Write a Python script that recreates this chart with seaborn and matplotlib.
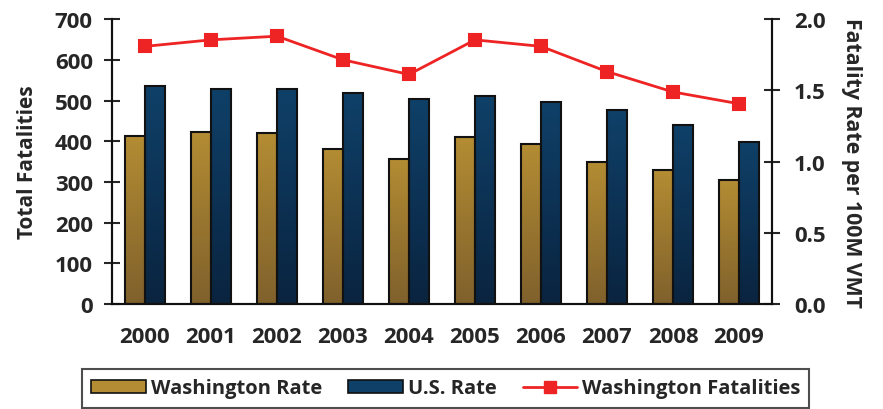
import numpy as np
import pandas as pd
import seaborn as sns
import matplotlib.pyplot as plt
from matplotlib.patches import Patch
from matplotlib.lines import Line2D
from matplotlib.colors import LinearSegmentedColormap

years = ["2000", "2001", "2002", "2003", "2004", "2005", "2006", "2007", "2008", "2009"]
wa_rate = [1.18, 1.21, 1.20, 1.09, 1.02, 1.17, 1.12, 1.00, 0.94, 0.87]
us_rate = [1.53, 1.51, 1.51, 1.48, 1.44, 1.46, 1.42, 1.36, 1.26, 1.14]
wa_fatalities = [633, 649, 658, 600, 564, 649, 633, 571, 521, 492]

sns.set_style("white")
plt.rcParams["font.family"] = ["Open Sans", "DejaVu Sans"]
plt.rcParams["font.weight"] = "bold"
plt.rcParams["axes.labelweight"] = "bold"

df = pd.DataFrame({
    "year": years * 2,
    "rate": wa_rate + us_rate,
    "series": ["Washington Rate"] * len(years) + ["U.S. Rate"] * len(years),
})

gold = ("#b38c33", "#80612c")
blue = ("#0f4068", "#0a2440")

fig = plt.figure(figsize=(8.83, 4.10), dpi=100)
ax = fig.add_axes([0.1268, 0.256, 0.7475, 0.695])
ax2 = ax.twinx()

# bars on the right (rate) axis
sns.barplot(data=df, x="year", y="rate", hue="series", ax=ax2,
            palette=[gold[0], blue[0]], width=0.6, edgecolor="#111111",
            linewidth=1.5, legend=False)

# gradient fill clipped to each bar
for p in ax2.patches:
    x0, y0 = p.get_x(), p.get_y()
    w, h = p.get_width(), p.get_height()
    if h <= 0:
        continue
    fc = p.get_facecolor()
    pair = gold if abs(fc[0] - 0.70) < 0.1 else blue
    cmap = LinearSegmentedColormap.from_list("g", [pair[1], pair[0]])
    grad = np.linspace(0, 1, 64).reshape(-1, 1)
    im = ax2.imshow(grad, cmap=cmap, aspect="auto", origin="lower",
                    extent=[x0, x0 + w, y0, y0 + h], zorder=p.get_zorder() - 0.1)
    im.set_clip_path(p)
    p.set_facecolor("none")

# line on the left (fatalities) axis, drawn above the bars
sns.pointplot(x=years, y=wa_fatalities, ax=ax, color="#ee2424", markers="s",
              markersize=9, linewidth=2)
ax.set_zorder(ax2.get_zorder() + 1)
ax.patch.set_visible(False)

ax.set_xlim(-0.5, 9.5)
ax.set_ylim(0, 700)
ax.set_yticks(range(0, 701, 100))
ax2.set_ylim(0, 2.0)
ax2.set_yticks([0, 0.5, 1.0, 1.5, 2.0])
ax2.set_yticklabels(["0.0", "0.5", "1.0", "1.5", "2.0"])

ax.set_xticks(range(len(years)))
ax.set_xticklabels(years)
ax.set_xticks(np.arange(0.5, 9.5, 1), minor=True)
ax.tick_params(axis="x", which="major", length=0, pad=16, labelsize=16)
ax.tick_params(axis="x", which="minor", length=10, width=1.5, direction="inout")
ax.tick_params(axis="y", length=11.5, width=1.5, direction="inout", labelsize=16, pad=8)
ax2.tick_params(axis="y", length=11.5, width=1.5, direction="inout", labelsize=16, pad=10)

ax.set_xlabel("")
ax.set_ylabel("Total Fatalities", fontsize=15, fontweight="bold", labelpad=12)
ax2.set_ylabel("Fatality Rate per 100M VMT", fontsize=15.3, fontweight="bold",
               rotation=270, labelpad=26)

for a in (ax, ax2):
    a.spines["top"].set_visible(False)
    for s in ("left", "right", "bottom"):
        a.spines[s].set_color("#111111")
        a.spines[s].set_linewidth(1.5)

handles = [
    Patch(facecolor=gold[0], edgecolor="#111111", linewidth=1.2, label="Washington Rate"),
    Patch(facecolor=blue[0], edgecolor="#111111", linewidth=1.2, label="U.S. Rate"),
    Line2D([0], [0], color="#ee2424", marker="s", markersize=8, linewidth=2,
           label="Washington Fatalities"),
]
leg = fig.legend(handles=handles, loc="center", bbox_to_anchor=(0.505, 0.05),
                 ncol=3, frameon=True, fancybox=False, fontsize=14.5,
                 handlelength=2.7, handleheight=0.6, handletextpad=0.25,
                 columnspacing=1.3, borderpad=0.45)
leg.get_frame().set_edgecolor("#222222")
leg.get_frame().set_linewidth(1.5)

fig.savefig("out.png", dpi=100)
